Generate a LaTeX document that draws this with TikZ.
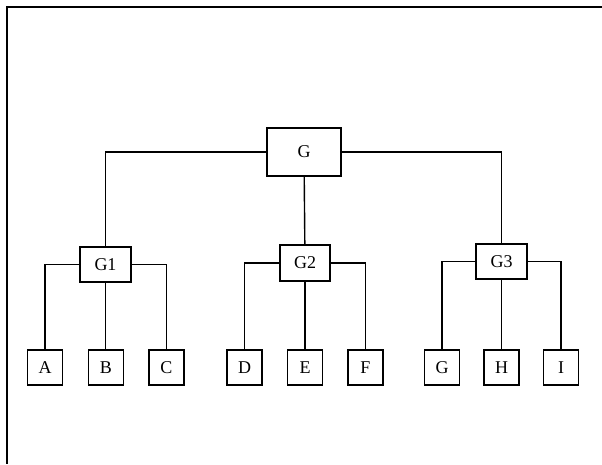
\documentclass[tikz,border=0pt]{standalone}
\usepackage{fontspec}
\setmainfont{Liberation Serif}
\begin{document}
\begin{tikzpicture}[x=1pt,y=-1pt,line width=1.4pt]
\tikzstyle{group}=[draw, rectangle, inner sep=0pt, font=\fontsize{18}{20}\selectfont]
\tikzstyle{leaf}=[draw, rectangle, inner sep=0pt, minimum width=35pt, minimum height=35pt, font=\fontsize{18}{20}\selectfont]
    \useasboundingbox (0,0) rectangle (602,464);
    \draw (602,7) -- (7,7) -- (7,464);

    \node[group, minimum width=74pt, minimum height=48pt] (G0) at (304,152) {G};
    \node[group, minimum width=51pt, minimum height=35pt] (G1) at (105.5,264.5) {G1};
    \node[group, minimum width=50pt, minimum height=36pt] (G2) at (305,263) {G2};
    \node[group, minimum width=51pt, minimum height=35pt] (G3) at (501.5,261.5) {G3};

    \node[leaf] (A) at (45,367.5) {A};
    \node[leaf] (B) at (106,367.5) {B};
    \node[leaf] (C) at (166.5,367.5) {C};
    \node[leaf] (D) at (244.5,367.5) {D};
    \node[leaf] (E) at (305,367.5) {E};
    \node[leaf] (F) at (365.5,367.5) {F};
    \node[leaf] (GG) at (442,367.5) {G};
    \node[leaf] (H) at (501.5,367.5) {H};
    \node[leaf] (I) at (561,367.5) {I};

    \draw (G0.west) -| (G1);
    \draw (G0) -- (G2);
    \draw (G0.east) -| (G3);

    \draw (G1.west) -| (A);
    \draw (G1) -- (G1|-B.north);
    \draw (G1.east) -| (C);

    \draw (G2.west) -| (D);
    \draw (G2) -- (G2|-E.north);
    \draw (G2.east) -| (F);

    \draw (G3.west) -| (GG);
    \draw (G3) -- (G3|-H.north);
    \draw (G3.east) -| (I);

\end{tikzpicture}
\end{document}
